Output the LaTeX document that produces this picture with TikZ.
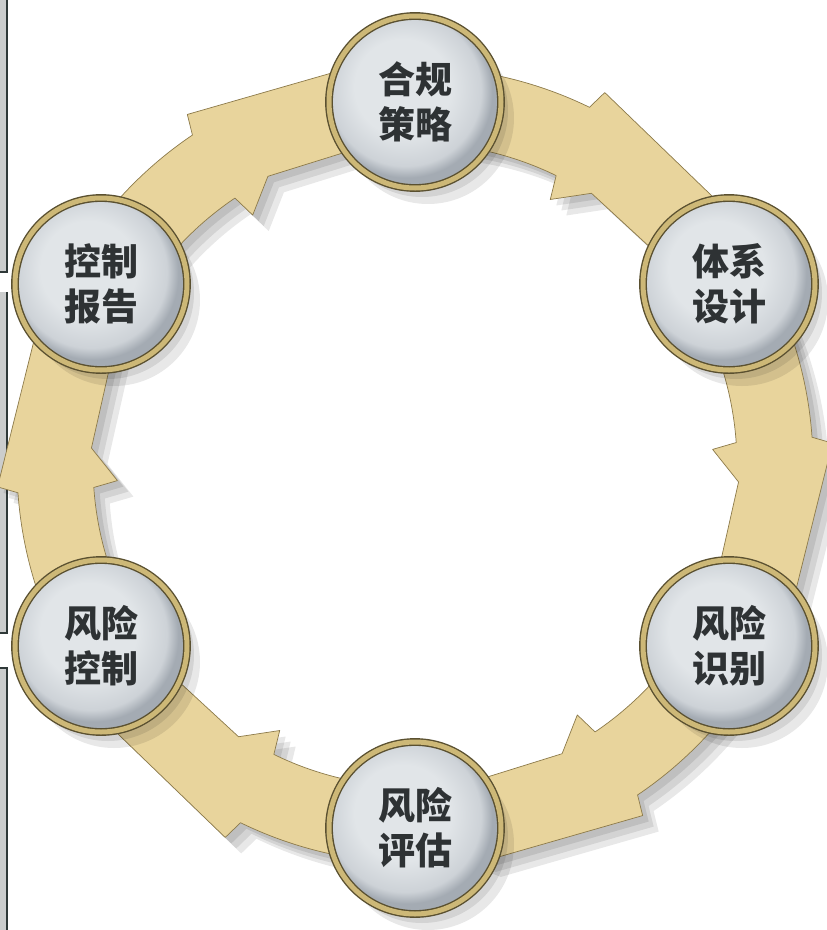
\documentclass[tikz,border=0pt]{standalone}
\usepackage{fontspec}
\newfontfamily\cjk{Noto Sans CJK SC}
\usetikzlibrary{calc}

\definecolor{bandcol}{HTML}{E8D49C}
\definecolor{bandedge}{HTML}{8C7A4A}
\definecolor{discA}{HTML}{E1E5E8}
\definecolor{discB}{HTML}{CDD2D7}
\definecolor{discC}{HTML}{A4ABB3}
\definecolor{ringdark}{HTML}{5A5030}
\definecolor{ringgold}{HTML}{CDB877}
\definecolor{txtcol}{HTML}{2E3234}
\definecolor{scrgray}{HTML}{CBCDCD}
\definecolor{scrline}{HTML}{2F3938}

\pgfdeclareradialshading{disc}{\pgfpoint{-5bp}{6bp}}{color(0bp)=(discA); color(14bp)=(discA); color(22bp)=(discB); color(25bp)=(discC); color(50bp)=(discC)}

\tikzset{
  band/.style={fill=bandcol, draw=bandedge, line width=0.7pt, line join=round},
  bandshade/.style={fill=black, fill opacity=0.09, draw=none, transform canvas={shift={(#1pt,-#1pt)}}},
  stage/.style={circle, minimum size=172pt, inner sep=0pt, shading=disc,
    draw=ringdark, line width=1.4pt, double=ringgold, double distance=5pt,
    text=txtcol, font=\cjk\bfseries\fontsize{37}{45}\selectfont, align=center,
    preaction={fill=black, fill opacity=0.09, transform canvas={shift={(7pt,-9pt)}}},
    preaction={fill=black, fill opacity=0.09, transform canvas={shift={(13pt,-16pt)}}}},
}

\newcommand{\ringarrow}[2]{%
  \fill[#2] (#1-6:398) arc[start angle=#1-6, end angle=#1+26, radius=398]
    -- (#1+27:418) -- (#1+50:402) -- (#1+63:362) -- (#1+50:322) -- (#1+33:324)
    -- (#1+27:298) -- (#1+26:322) arc[start angle=#1+26, end angle=#1-6, radius=322] -- cycle;}

\begin{document}
\begin{tikzpicture}[x=1pt, y=-1pt]
\useasboundingbox (0,0) rectangle (827,930);
\fill[white] (0,0) rectangle (827,930);

\fill[scrgray] (0,0) rectangle (6,272);
\fill[scrgray] (0,292) rectangle (6,633);
\fill[scrgray] (0,668) rectangle (6,930);
\draw[scrline, line width=2.5pt] (0,272) -- (7,272) -- (7,0);
\draw[scrline, line width=2.5pt] (7,292) -- (7,633) -- (0,633);
\draw[scrline, line width=2.5pt] (0,668) -- (7,668) -- (7,930);
\draw[scrline, line width=1pt] (7,483) -- (17,483);

\coordinate (c) at (415,465);
\begin{scope}[shift={(c)}]
\foreach \a in {-90,-30,30,90,150,210} {
  \ringarrow{\a}{bandshade=6}
  \ringarrow{\a}{bandshade=11}
  \ringarrow{\a}{bandshade=16}
}
\ringarrow{-90}{band}
\ringarrow{-30}{band}
\ringarrow{30}{band}
\ringarrow{90}{band}
\ringarrow{150}{band}
\ringarrow{210}{band}
\end{scope}

\node[stage] (hg) at (415,102) {合规\\策略};
\node[stage] (tx) at (729,284) {体系\\设计};
\node[stage] (fs) at (729,646) {风险\\识别};
\node[stage] (fp) at (415,828) {风险\\评估};
\node[stage] (fk) at (101,646) {风险\\控制};
\node[stage] (bg) at (101,284) {控制\\报告};
\end{tikzpicture}
\end{document}
